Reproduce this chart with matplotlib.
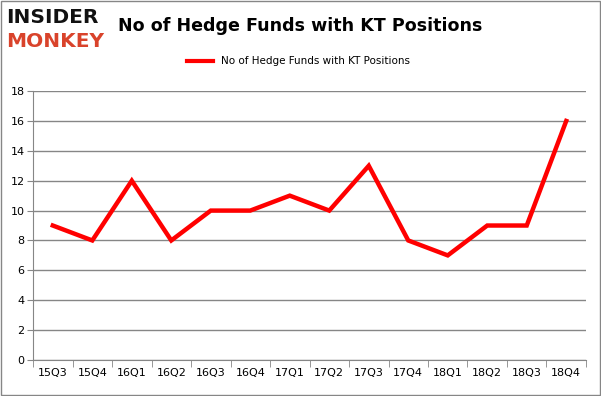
import numpy as np
import matplotlib.pyplot as plt
from matplotlib.lines import Line2D

quarters = ['15Q3', '15Q4', '16Q1', '16Q2', '16Q3', '16Q4', '17Q1', '17Q2',
            '17Q3', '17Q4', '18Q1', '18Q2', '18Q3', '18Q4']
hedge_funds = [9, 8, 12, 8, 10, 10, 11, 10, 13, 8, 7, 9, 9, 16]
y_ticks = list(range(0, 20, 2))

fig = plt.figure(figsize=(6.01, 3.96), dpi=100)
ax = fig.add_axes([0.055, 0.091, 0.920, 0.679])

x = np.arange(len(quarters))
ax.plot(x, hedge_funds, color='#ff0000', lw=3.2, solid_joinstyle='miter')

ax.set_xlim(-0.5, len(quarters) - 0.5)
ax.set_ylim(0, 18)
ax.set_yticks(y_ticks)
ax.set_xticks(x)
ax.set_xticklabels(quarters)
ax.set_xticks(np.arange(-0.5, len(quarters), 1), minor=True)
ax.tick_params(axis='x', which='major', length=0, labelsize=8, pad=6)
ax.tick_params(axis='x', which='minor', length=5, color='#868686')
ax.tick_params(axis='y', length=4, color='#868686', labelsize=8, pad=2)
ax.grid(axis='y', color='#868686', lw=1)
ax.set_axisbelow(True)
for s in ['top', 'right']:
    ax.spines[s].set_visible(False)
for s in ['left', 'bottom']:
    ax.spines[s].set_color('#868686')

fig.text(0.5, 0.935, 'No of Hedge Funds with KT Positions', ha='center', va='center',
         fontsize=12.6, fontweight='bold')
handle = Line2D([], [], color='#ff0000', lw=3)
fig.legend([handle], ['No of Hedge Funds with KT Positions'], loc='center',
           bbox_to_anchor=(0.497, 0.845), frameon=False, fontsize=7.5, handlelength=2.5)

fig.text(0.01, 0.955, 'INSIDER', fontsize=14.5, fontweight='black', color='#111111',
         va='center', ha='left', family='DejaVu Sans')
fig.text(0.01, 0.895, 'MONKEY', fontsize=14.5, fontweight='black', color='#d9432b',
         va='center', ha='left', family='DejaVu Sans')

fig.patches.append(plt.Rectangle((0.001, 0.002), 0.997, 0.996, transform=fig.transFigure,
                                 fill=False, edgecolor='#868686', lw=1))

fig.savefig('out.png', dpi=100)
